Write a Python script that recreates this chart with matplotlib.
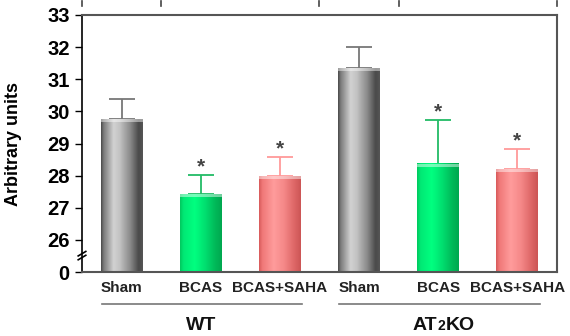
import numpy as np
import matplotlib
matplotlib.use("Agg")
import matplotlib.pyplot as plt
from matplotlib.colors import LinearSegmentedColormap
from matplotlib.transforms import blended_transform_factory

# ---- data ----
categories = ["Sham", "BCAS", "BCAS+SAHA", "Sham", "BCAS", "BCAS+SAHA"]
groups = ["WT", "AT\u2082KO"]
values = [29.75, 27.42, 27.98, 31.35, 28.37, 28.20]
errors = [0.65, 0.60, 0.60, 0.65, 1.37, 0.63]
significant = [False, True, True, False, True, True]
ytick_values = [25, 26, 27, 28, 29, 30, 31, 32, 33]
ytick_labels = ["0", "26", "27", "28", "29", "30", "31", "32", "33"]
ylabel = "Arbitrary units"

plt.rcParams["font.family"] = ["Liberation Sans", "DejaVu Sans"]
plt.rcParams["font.weight"] = "bold"

fig = plt.figure(figsize=(5.7, 3.36), dpi=100)
ax = fig.add_axes([82 / 570, 1 - 272 / 336, (557 - 82) / 570, (272 - 15) / 336])

x = np.arange(len(categories))
ymin, ymax = 25, 33
ax.set_xlim(-0.5, 5.5)
ax.set_ylim(ymin, ymax)

profiles = {
    "gray": ([0, 0.06, 0.3, 0.45, 0.7, 0.9, 1.0],
             ["#4a4a4a", "#7a7a7a", "#d2d2d2", "#c2c2c2", "#8a8a8a", "#4a4a4a", "#555555"]),
    "green": ([0, 0.08, 0.35, 0.6, 0.85, 1.0],
              ["#00c85e", "#00e874", "#00ff80", "#00e070", "#00b858", "#00a850"]),
    "pink": ([0, 0.08, 0.35, 0.6, 0.85, 1.0],
             ["#d85a5a", "#f07878", "#ff9c9c", "#f58888", "#dd6666", "#cc5555"]),
}
bar_styles = ["gray", "green", "pink", "gray", "green", "pink"]
err_colors = {"gray": "#777777", "green": "#22bb66", "pink": "#ff9a9a"}

width = 0.53
npx = 128
for xi, v, e, st, sig in zip(x, values, errors, bar_styles, significant):
    pos, cols = profiles[st]
    cmap = LinearSegmentedColormap.from_list(st, list(zip(pos, cols)))
    grad = np.linspace(0, 1, npx)[None, :]
    img = cmap(grad)
    x0, x1 = xi - width / 2, xi + width / 2
    ax.imshow(img, extent=(x0, x1, ymin, v), aspect="auto", origin="lower",
              interpolation="bilinear", zorder=2)
    cap = img.copy()
    cap[..., :3] = cap[..., :3] * 0.55 + 0.45
    ax.imshow(cap, extent=(x0, x1, v - 0.09, v), aspect="auto", origin="lower",
              interpolation="bilinear", zorder=3)
    ec = err_colors[st]
    ax.errorbar(xi, v, yerr=[[0], [e]], fmt="none", ecolor=ec, elinewidth=1.3,
                capsize=9.5, capthick=1.3, zorder=1)
    if sig:
        ax.text(xi, v + e + 0.24, "*", ha="center", va="center", fontsize=15,
                color="#444444", fontweight="bold", zorder=4)

ax.set_yticks(ytick_values)
ax.set_yticklabels(ytick_labels, fontsize=14.5, fontweight="bold")
ax.set_xticks([])
ax.tick_params(axis="y", direction="out", length=5, width=1, color="black", pad=4)
ax.set_ylabel(ylabel, fontsize=13, fontweight="bold")
ax.yaxis.set_label_coords(-(82 - 22) / 475, 0.5)

for s in ["top", "right"]:
    ax.spines[s].set_color("#555555")
    ax.spines[s].set_linewidth(1.5)
ax.spines["left"].set_color("black")
ax.spines["left"].set_linewidth(1.2)
ax.spines["bottom"].set_color("#555555")
ax.spines["bottom"].set_linewidth(1.5)

# axis break marks on left spine
tr = blended_transform_factory(ax.transAxes, ax.transData)
for dy in (0.0, 0.12):
    yb = 25.45 + dy
    ax.plot([-0.008, 0.008], [yb - 0.07, yb + 0.07], transform=tr, color="black",
            lw=1.2, clip_on=False, zorder=6)

# small marks above top
trx = blended_transform_factory(ax.transData, fig.transFigure)
for xm in [-0.5, 0.5, 2.5, 3.5, 5.5]:
    ax.plot([xm, xm], [1 - 1 / 336, 1 - 6 / 336], transform=trx, color="#444444",
            lw=1.2, clip_on=False)

# category labels
for xi, c in zip(x, categories):
    ax.text(xi, 1 - 288 / 336, c, transform=trx, ha="center", va="center",
            fontsize=11, fontweight="bold", color="#222222")

# group lines and labels
for gi, g in enumerate(groups):
    xs = x[gi * 3: gi * 3 + 3]
    ax.plot([xs[0] - 0.25, xs[-1] + 0.28], [1 - 304 / 336] * 2, transform=trx,
            color="#777777", lw=1.2, clip_on=False)
    xc = (xs[0] + xs[-1]) / 2
    yc = 1 - 325 / 336
    if gi == 0:
        ax.text(xc, yc, g, transform=trx, ha="center", va="center",
                fontsize=14, fontweight="bold", color="#111111")
    else:
        ax.text(xc - 0.02, yc, "AT", transform=trx, ha="right", va="center",
                fontsize=14, fontweight="bold", color="#111111")
        ax.text(xc - 0.015, yc - 0.003, "2", transform=trx, ha="left", va="center",
                fontsize=10, fontweight="bold", color="#111111")
        ax.text(xc + 0.09, yc, "KO", transform=trx, ha="left", va="center",
                fontsize=14, fontweight="bold", color="#111111")

fig.savefig("out.png", dpi=100)
